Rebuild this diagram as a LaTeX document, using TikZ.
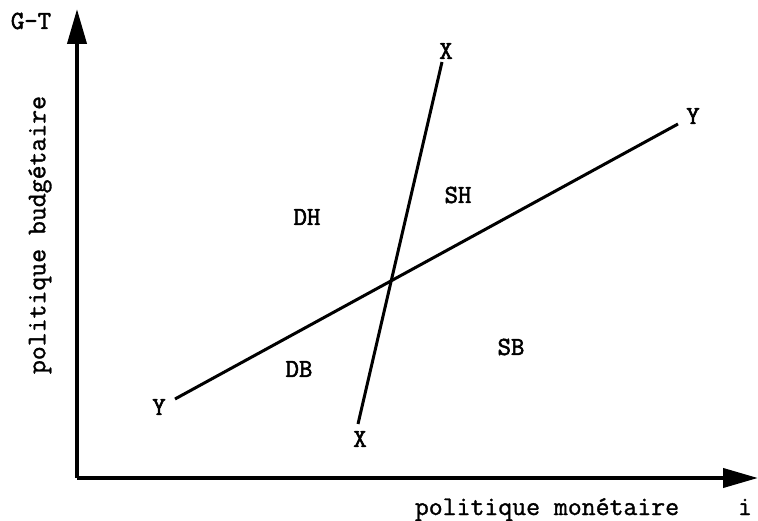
\documentclass[tikz,border=0pt]{standalone}
\usepackage{fontspec}
\newfontfamily\scantt{Latin Modern Mono}[FakeBold=1.2]
\newfontfamily\scanttb{Latin Modern Mono}[FakeBold=2.2]
\usetikzlibrary{arrows.meta}
\begin{document}
\begin{tikzpicture}[x=1pt, y=-1pt, line width=3pt,
  axis/.style={line width=4pt, -{Triangle[length=35pt, width=19pt]}},
  lab/.style={font=\scantt\fontsize{27}{28}\selectfont, inner sep=0pt},
  tag/.style={font=\scanttb\fontsize{26}{28}\selectfont, inner sep=0pt}]
  \useasboundingbox (0,0) rectangle (758,521);
  \coordinate (O) at (77,478);
  \coordinate (ytop) at (77,9);
  \coordinate (xend) at (758,478);
  \draw[axis] (O) -- (ytop);
  \draw[axis] (O) -- (xend);
  \coordinate (xa) at (358,424);
  \coordinate (xb) at (442,62);
  \coordinate (ya) at (175,399);
  \coordinate (yb) at (678,124);
  \draw (xa) -- (xb);
  \draw (ya) -- (yb);
  \node[tag] (gt) at (31,21) {G-T};
  \node[lab, rotate=90] (budget) at (40,235) {politique budgétaire};
  \node[lab, anchor=base] (monet) at (547,515) {politique monétaire};
  \node[lab, anchor=base] (irate) at (745,515) {i};
  \node[tag] (xtop) at (446,51) {X};
  \node[tag] (xbot) at (360,439) {X};
  \node[tag] (yright) at (693,116) {Y};
  \node[tag] (yleft) at (159,407) {Y};
  \node[tag] (dh) at (307,217) {DH};
  \node[tag] (sh) at (458,195) {SH};
  \node[tag] (db) at (299,369) {DB};
  \node[tag] (sb) at (511,347) {SB};
\end{tikzpicture}
\end{document}
